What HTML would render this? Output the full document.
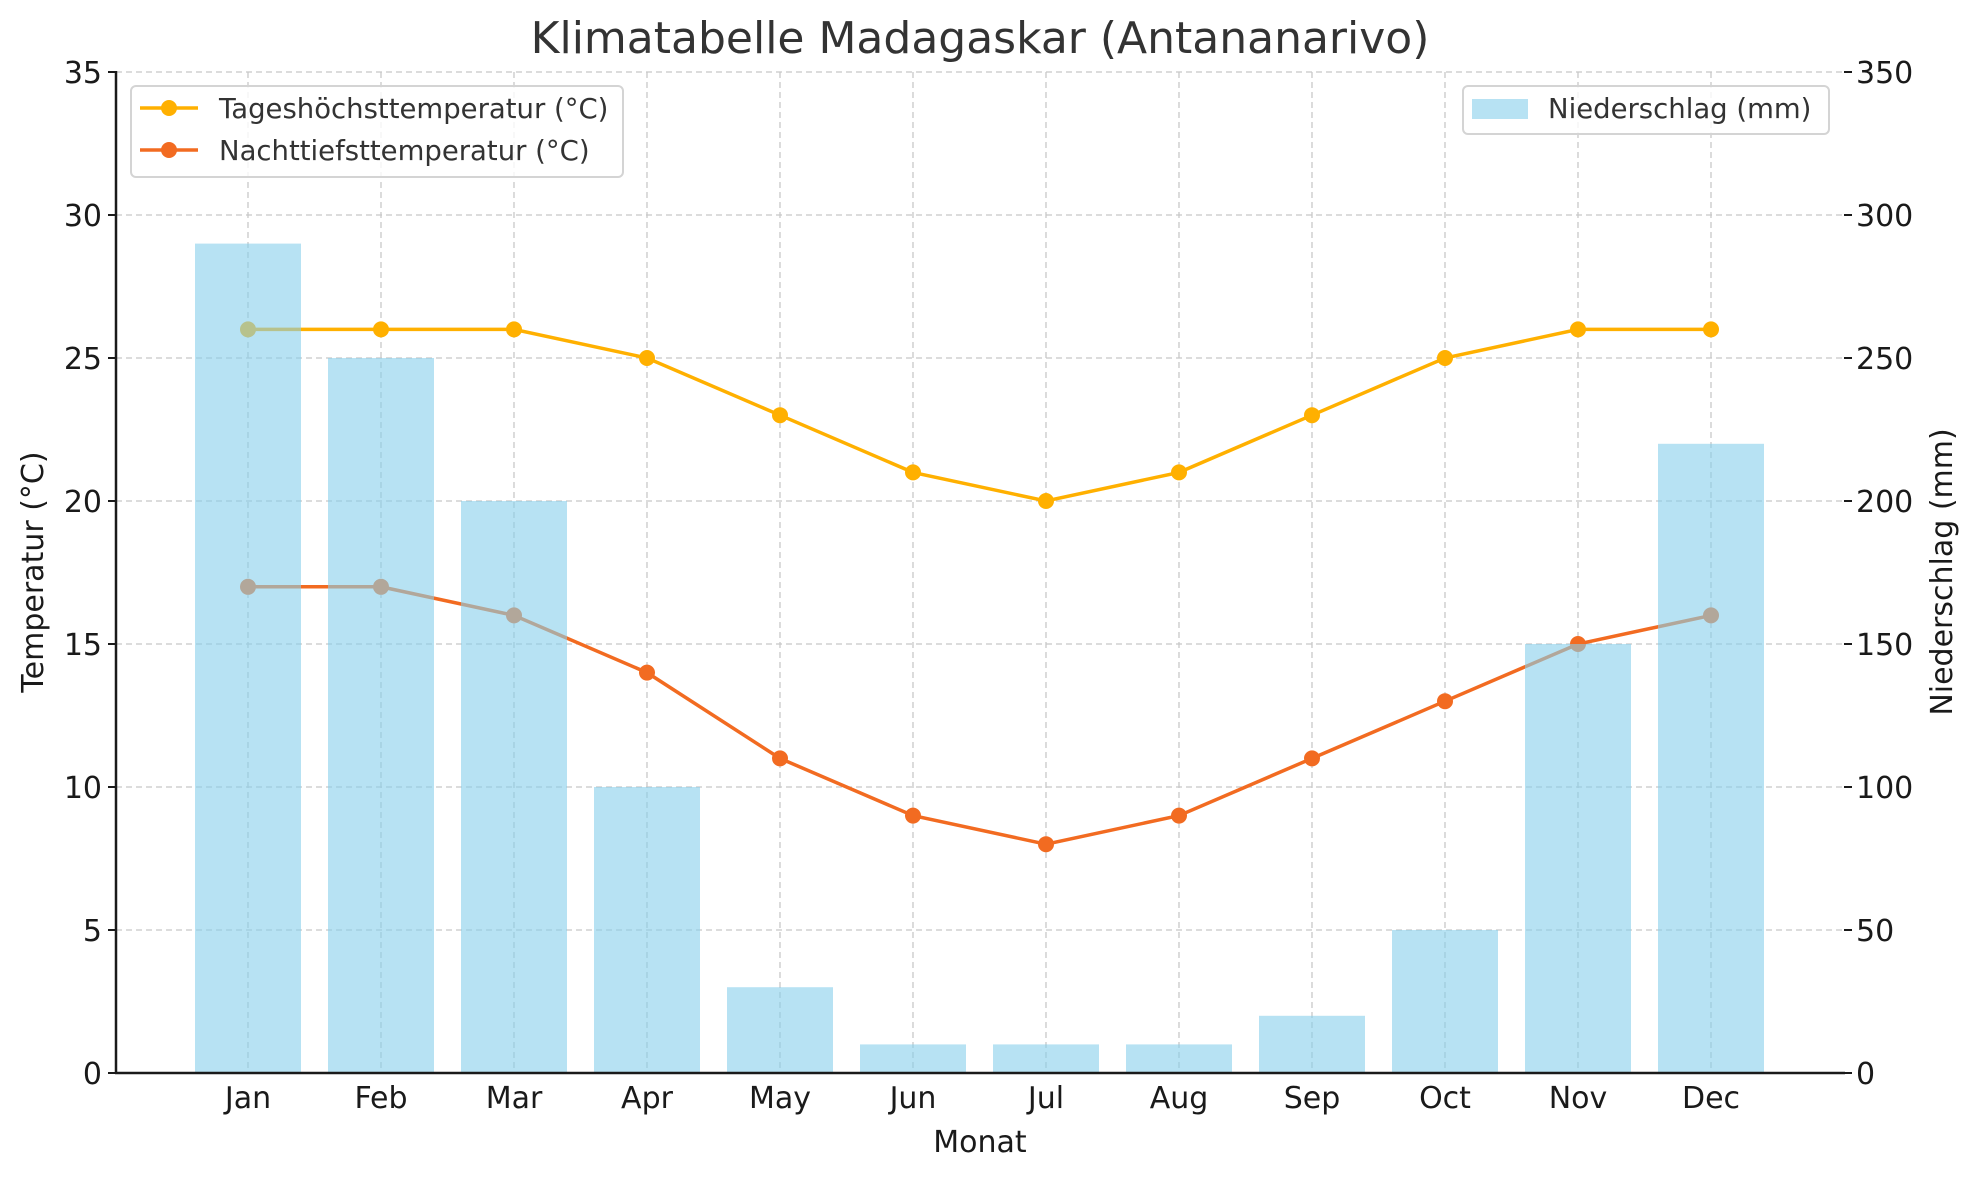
<!DOCTYPE html>
<html><head><meta charset="utf-8"><style>body{margin:0;background:#fff}svg{display:block;font-family:"DejaVu Sans","Liberation Sans",sans-serif}</style></head><body>
<svg width="1980" height="1180" viewBox="0 0 1980 1180">
<text x="980" y="53" font-size="44" text-anchor="middle" fill="#333">Klimatabelle Madagaskar (Antananarivo)</text>
<g stroke="#c8c8c8" stroke-width="1.3" stroke-dasharray="6,4">
<line x1="116" x2="1844" y1="930" y2="930"/><line x1="116" x2="1844" y1="787" y2="787"/><line x1="116" x2="1844" y1="644" y2="644"/><line x1="116" x2="1844" y1="501" y2="501"/><line x1="116" x2="1844" y1="358" y2="358"/><line x1="116" x2="1844" y1="215" y2="215"/><line x1="116" x2="1844" y1="72" y2="72"/>
<line y1="72" y2="1073" x1="248" x2="248"/><line y1="72" y2="1073" x1="381" x2="381"/><line y1="72" y2="1073" x1="514" x2="514"/><line y1="72" y2="1073" x1="647" x2="647"/><line y1="72" y2="1073" x1="780" x2="780"/><line y1="72" y2="1073" x1="913" x2="913"/><line y1="72" y2="1073" x1="1046" x2="1046"/><line y1="72" y2="1073" x1="1179" x2="1179"/><line y1="72" y2="1073" x1="1312" x2="1312"/><line y1="72" y2="1073" x1="1445" x2="1445"/><line y1="72" y2="1073" x1="1578" x2="1578"/><line y1="72" y2="1073" x1="1711" x2="1711"/>
</g>
<g fill="#ffb000" stroke="#ffb000">
<polyline fill="none" stroke-width="3.5" points="248,329.4 381,329.4 514,329.4 647,358 780,415.2 913,472.4 1046,501 1179,472.4 1312,415.2 1445,358 1578,329.4 1711,329.4"/>
<g stroke="none"><circle cx="248" cy="329.4" r="8"/><circle cx="381" cy="329.4" r="8"/><circle cx="514" cy="329.4" r="8"/><circle cx="647" cy="358" r="8"/><circle cx="780" cy="415.2" r="8"/><circle cx="913" cy="472.4" r="8"/><circle cx="1046" cy="501" r="8"/><circle cx="1179" cy="472.4" r="8"/><circle cx="1312" cy="415.2" r="8"/><circle cx="1445" cy="358" r="8"/><circle cx="1578" cy="329.4" r="8"/><circle cx="1711" cy="329.4" r="8"/></g>
</g>
<g fill="#f26b21" stroke="#f26b21">
<polyline fill="none" stroke-width="3.5" points="248,586.8 381,586.8 514,615.4 647,672.6 780,758.4 913,815.6 1046,844.2 1179,815.6 1312,758.4 1445,701.2 1578,644 1711,615.4"/>
<g stroke="none"><circle cx="248" cy="586.8" r="8"/><circle cx="381" cy="586.8" r="8"/><circle cx="514" cy="615.4" r="8"/><circle cx="647" cy="672.6" r="8"/><circle cx="780" cy="758.4" r="8"/><circle cx="913" cy="815.6" r="8"/><circle cx="1046" cy="844.2" r="8"/><circle cx="1179" cy="815.6" r="8"/><circle cx="1312" cy="758.4" r="8"/><circle cx="1445" cy="701.2" r="8"/><circle cx="1578" cy="644" r="8"/><circle cx="1711" cy="615.4" r="8"/></g>
</g>
<g fill="#87ceeb" fill-opacity="0.6">
<rect x="195" y="243.6" width="106" height="829.4"/><rect x="328" y="358" width="106" height="715"/><rect x="461" y="501" width="106" height="572"/><rect x="594" y="787" width="106" height="286"/><rect x="727" y="987.2" width="106" height="85.8"/><rect x="860" y="1044.4" width="106" height="28.6"/><rect x="993" y="1044.4" width="106" height="28.6"/><rect x="1126" y="1044.4" width="106" height="28.6"/><rect x="1259" y="1015.8" width="106" height="57.2"/><rect x="1392" y="930" width="106" height="143"/><rect x="1525" y="644" width="106" height="429"/><rect x="1658" y="443.8" width="106" height="629.2"/>
</g>
<g stroke="#1a1a1a" stroke-width="2.5" fill="none"><line x1="116" y1="71" x2="116" y2="1074"/><line x1="115" y1="1073" x2="1845" y2="1073"/></g>
<g stroke="#1a1a1a" stroke-width="2">
<line x1="108" x2="116" y1="1073" y2="1073"/><line x1="108" x2="116" y1="930" y2="930"/><line x1="108" x2="116" y1="787" y2="787"/><line x1="108" x2="116" y1="644" y2="644"/><line x1="108" x2="116" y1="501" y2="501"/><line x1="108" x2="116" y1="358" y2="358"/><line x1="108" x2="116" y1="215" y2="215"/><line x1="108" x2="116" y1="72" y2="72"/>
<line x1="1844" x2="1852" y1="1073" y2="1073"/><line x1="1844" x2="1852" y1="930" y2="930"/><line x1="1844" x2="1852" y1="787" y2="787"/><line x1="1844" x2="1852" y1="644" y2="644"/><line x1="1844" x2="1852" y1="501" y2="501"/><line x1="1844" x2="1852" y1="358" y2="358"/><line x1="1844" x2="1852" y1="215" y2="215"/><line x1="1844" x2="1852" y1="72" y2="72"/>
</g>
<g font-size="30" fill="#1a1a1a" text-anchor="end">
<text x="102" y="1084">0</text><text x="102" y="941">5</text><text x="102" y="798">10</text><text x="102" y="655">15</text><text x="102" y="512">20</text><text x="102" y="369">25</text><text x="102" y="226">30</text><text x="102" y="83">35</text>
</g>
<g font-size="30" fill="#1a1a1a">
<text x="1856" y="1084">0</text><text x="1856" y="941">50</text><text x="1856" y="798">100</text><text x="1856" y="655">150</text><text x="1856" y="512">200</text><text x="1856" y="369">250</text><text x="1856" y="226">300</text><text x="1856" y="83">350</text>
</g>
<g font-size="30" fill="#1a1a1a" text-anchor="middle">
<text x="248" y="1108">Jan</text><text x="381" y="1108">Feb</text><text x="514" y="1108">Mar</text><text x="647" y="1108">Apr</text><text x="780" y="1108">May</text><text x="913" y="1108">Jun</text><text x="1046" y="1108">Jul</text><text x="1179" y="1108">Aug</text><text x="1312" y="1108">Sep</text><text x="1445" y="1108">Oct</text><text x="1578" y="1108">Nov</text><text x="1711" y="1108">Dec</text>
<text x="980" y="1152">Monat</text>
<text transform="translate(43,572) rotate(-90)">Temperatur (°C)</text>
<text transform="translate(1952,572) rotate(-90)">Niederschlag (mm)</text>
</g>
<rect x="131" y="86" width="492" height="91" rx="5" fill="#fff" fill-opacity="0.8" stroke="#d4d4d4" stroke-width="2"/>
<line x1="140" x2="198" y1="108" y2="108" stroke="#ffb000" stroke-width="3.5"/><circle cx="169" cy="108" r="8" fill="#ffb000"/>
<line x1="140" x2="198" y1="150" y2="150" stroke="#f26b21" stroke-width="3.5"/><circle cx="169" cy="150" r="8" fill="#f26b21"/>
<g font-size="27.5" fill="#333"><text x="219" y="118">Tageshöchsttemperatur (°C)</text><text x="219" y="160">Nachttiefsttemperatur (°C)</text></g>
<rect x="1463" y="86" width="366" height="48" rx="5" fill="#fff" fill-opacity="0.8" stroke="#d4d4d4" stroke-width="2"/>
<rect x="1472" y="99" width="56" height="20" fill="#87ceeb" fill-opacity="0.6"/>
<text x="1481" y="118" font-size="27.5" fill="#333" dx="0"><tspan x="1481" dx="0"></tspan></text>
<text x="1481" y="118" font-size="27.5" fill="#333" transform="translate(0,0)" style="display:none"></text>
<text x="1548" y="118" font-size="27.5" fill="#333">Niederschlag (mm)</text>
</svg>
</body></html>
